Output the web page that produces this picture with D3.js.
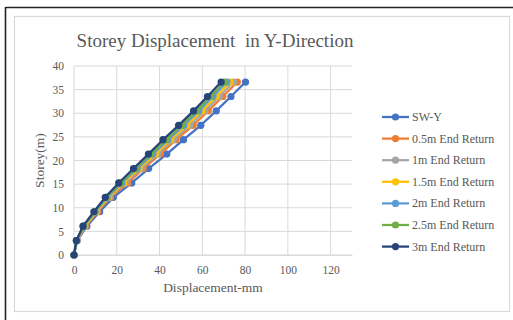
<!DOCTYPE html>
<html>
<head>
<meta charset="utf-8">
<script src="https://cdn.jsdelivr.net/npm/d3@7"></script>
<style>
  body { margin: 0; background: #fff; }
  svg { display: block; }
  svg text { font-family: "Liberation Serif", "DejaVu Serif", serif; }
</style>
</head>
<body>
<svg width="513" height="320"></svg>
<script>
// storey heights (m)
const storeys = [0, 3.05, 6.1, 9.15, 12.2, 15.25, 18.3, 21.35, 24.4, 27.45, 30.5, 33.55, 36.6]

// displacement (mm) per series
const swY      = [0, 1.5, 6.0, 12.0, 18.4, 27.0, 34.9, 43.4, 51.2, 59.3, 66.5, 73.4, 80.2]
const end05    = [0, 1.4, 5.4, 11.1, 17.1, 25.2, 32.4, 40.3, 47.8, 55.7, 62.8, 69.6, 76.4]
const end1     = [0, 1.3, 5.1, 10.6, 16.5, 24.0, 31.4, 39.1, 46.4, 54.1, 61.2, 67.9, 74.6]
const end15    = [0, 1.2, 4.9, 10.3, 16.0, 23.2, 30.4, 38.0, 45.2, 52.7, 59.8, 66.5, 73.0]
const end2     = [0, 1.2, 4.6, 9.9, 15.5, 22.4, 29.5, 36.9, 44.0, 51.4, 58.4, 65.0, 71.5]
const end25    = [0, 1.1, 4.4, 9.6, 15.1, 21.7, 28.7, 35.9, 42.9, 50.2, 57.3, 63.8, 70.3]
const end3     = [0, 1.1, 4.2, 9.3, 14.6, 20.9, 27.8, 34.8, 41.6, 48.9, 55.9, 62.4, 68.8]

const seriesNames = ["SW-Y", "0.5m End Return", "1m End Return", "1.5m End Return",
                     "2m End Return", "2.5m End Return", "3m End Return"]
const seriesValues = [swY, end05, end1, end15, end2, end25, end3]
const colors = ["#4472C4", "#ED7D31", "#A5A5A5", "#FFC000", "#5B9BD5", "#70AD47", "#264478"]

const xTicks = [0, 20, 40, 60, 80, 100, 120]
const yTicks = [0, 5, 10, 15, 20, 25, 30, 35, 40]

const svg = d3.select("svg")
const textColor = "#595959"

// page frame
svg.append("line").attr("x1", 5.5).attr("y1", 7.5).attr("x2", 513).attr("y2", 7.5)
    .attr("stroke", "#222").attr("stroke-width", 1.6)
svg.append("line").attr("x1", 5.5).attr("y1", 7).attr("x2", 5.5).attr("y2", 320)
    .attr("stroke", "#222").attr("stroke-width", 1.6)

// chart area border
svg.append("rect").attr("x", 14.5).attr("y", 16.5).attr("width", 495).attr("height", 295)
    .attr("fill", "#fff").attr("stroke", "#d9d9d9").attr("stroke-width", 1.2)

const x = d3.scaleLinear().domain([0, 130]).range([74, 352])
const y = d3.scaleLinear().domain([0, 40]).range([255, 66])

// gridlines
svg.append("g").selectAll("line").data(xTicks).enter().append("line")
    .attr("x1", d => x(d)).attr("x2", d => x(d))
    .attr("y1", y(0)).attr("y2", y(40))
    .attr("stroke", "#d9d9d9").attr("stroke-width", 1)
svg.append("g").selectAll("line").data(yTicks).enter().append("line")
    .attr("x1", x(0)).attr("x2", x(130))
    .attr("y1", d => y(d)).attr("y2", d => y(d))
    .attr("stroke", "#d9d9d9").attr("stroke-width", 1)

// axes
const xAxis = svg.append("g").attr("transform", `translate(0,${y(0)})`)
    .call(d3.axisBottom(x).tickValues(xTicks).tickSize(0).tickPadding(11))
    .attr("font-family", null).attr("font-size", null)
xAxis.select(".domain").attr("stroke", "#d9d9d9")
xAxis.selectAll("text").attr("fill", textColor).style("font-size", "11.5px")

const yAxis = svg.append("g").attr("transform", `translate(${x(0)},0)`)
    .call(d3.axisLeft(y).tickValues(yTicks).tickSize(0).tickPadding(10))
    .attr("font-family", null).attr("font-size", null)
yAxis.select(".domain").remove()
yAxis.selectAll("text").attr("fill", textColor).style("font-size", "11.5px")

// series
const line = d3.line().x(d => x(d[0])).y(d => y(d[1]))
seriesValues.forEach((vals, i) => {
    const pts = vals.map((v, k) => [v, storeys[k]])
    svg.append("path").datum(pts)
        .attr("d", line)
        .attr("fill", "none")
        .attr("stroke", colors[i])
        .attr("stroke-width", 2.25)
        .attr("stroke-linejoin", "round")
    svg.append("g").selectAll("circle").data(pts).enter().append("circle")
        .attr("cx", d => x(d[0])).attr("cy", d => y(d[1]))
        .attr("r", 3.6)
        .attr("fill", colors[i])
})

// title
svg.append("text").attr("x", 215).attr("y", 47)
    .attr("text-anchor", "middle").attr("fill", textColor)
    .style("font-size", "19px")
    .attr("xml:space", "preserve")
    .text("Storey Displacement  in Y-Direction")

// axis titles
svg.append("text").attr("x", 213).attr("y", 292)
    .attr("text-anchor", "middle").attr("fill", textColor)
    .style("font-size", "13.5px")
    .text("Displacement-mm")
svg.append("text")
    .attr("transform", `translate(44,${y(20)}) rotate(-90)`)
    .attr("text-anchor", "middle").attr("fill", textColor)
    .style("font-size", "13.5px")
    .text("Storey(m)")

// legend
const legend = svg.append("g").selectAll("g").data(seriesNames).enter().append("g")
    .attr("transform", (d, i) => `translate(382,${117 + i * 21.6})`)
legend.append("line").attr("x1", 0).attr("x2", 27).attr("y1", 0).attr("y2", 0)
    .attr("stroke", (d, i) => colors[i]).attr("stroke-width", 2.25)
legend.append("circle").attr("cx", 13.5).attr("cy", 0).attr("r", 3.6)
    .attr("fill", (d, i) => colors[i])
legend.append("text").attr("x", 30).attr("y", 4)
    .attr("fill", textColor).style("font-size", "12px")
    .text(d => d)
</script>
</body>
</html>
